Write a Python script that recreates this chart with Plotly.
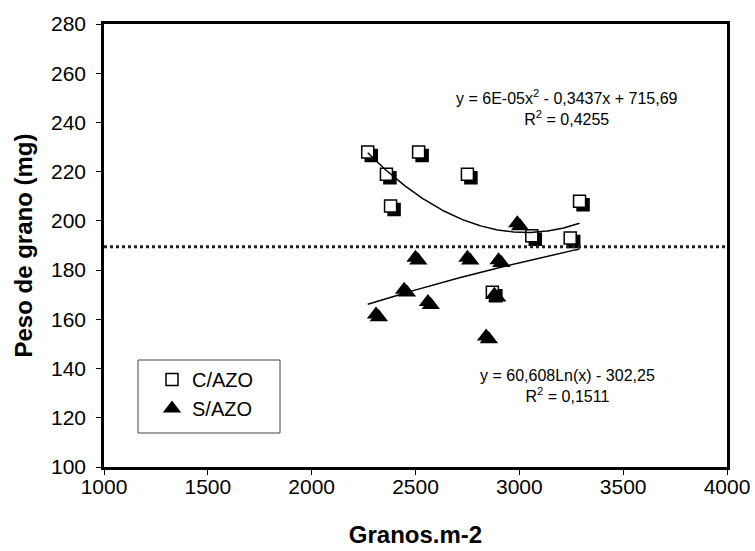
import numpy as np
import plotly.graph_objects as go

# ---- data ----
c_azo_x = [2270, 2360, 2380, 2515, 2750, 2870, 3060, 3245, 3290]
c_azo_y = [228, 219, 206, 228, 219, 171, 194, 193, 208]
s_azo_x = [2310, 2445, 2560, 2500, 2750, 2900, 2990, 2880, 2840]
s_azo_y = [162, 172, 167, 185, 185, 184, 199, 170, 153]
ref_y = 189.5
log_a, log_b = 60.608, -302.25
eq_c = "y = 6E-05x<sup>2</sup> - 0,3437x + 715,69<br>R<sup>2</sup> = 0,4255"
eq_s = "y = 60,608Ln(x) - 302,25<br>R<sup>2</sup> = 0,1511"
x_ticks = [1000, 1500, 2000, 2500, 3000, 3500, 4000]
y_ticks = [100, 120, 140, 160, 180, 200, 220, 240, 260, 280]

W, H = 755, 551
ML, MR, MT, MB = 104, 28, 24, 84
XR = [1000, 4000]
YR = [100, 280]
pw, ph = W - ML - MR, H - MT - MB
dx = 3.5 * (XR[1] - XR[0]) / pw
dy = 3.5 * (YR[1] - YR[0]) / ph

FONT = "Liberation Sans, Arial, sans-serif"

fig = go.Figure()

# shadows + C/AZO
fig.add_trace(go.Scatter(x=[v + dx for v in c_azo_x], y=[v - dy for v in c_azo_y], mode="markers",
                         marker=dict(symbol="square", size=12, color="black", line=dict(width=1.5, color="black")),
                         showlegend=False, hoverinfo="skip"))
fig.add_trace(go.Scatter(x=c_azo_x, y=c_azo_y, mode="markers", name="C/AZO",
                         marker=dict(symbol="square", size=12, color="white", line=dict(width=1.5, color="black"))))
# shadows + S/AZO
fig.add_trace(go.Scatter(x=[v + dx * 0.8 for v in s_azo_x], y=[v - dy * 0.8 for v in s_azo_y], mode="markers",
                         marker=dict(symbol="triangle-up", size=16, color="black"),
                         showlegend=False, hoverinfo="skip"))
fig.add_trace(go.Scatter(x=s_azo_x, y=s_azo_y, mode="markers", name="S/AZO",
                         marker=dict(symbol="triangle-up", size=16, color="black")))

# trendlines
cx = np.array(c_azo_x, float)
cy = np.array(c_azo_y, float)
coef = np.polyfit(cx, cy, 2)
xx = np.linspace(cx.min(), cx.max(), 200)
fig.add_trace(go.Scatter(x=xx, y=np.polyval(coef, xx), mode="lines",
                         line=dict(color="black", width=1.5), showlegend=False, hoverinfo="skip"))
xs = np.linspace(min(c_azo_x + s_azo_x), max(c_azo_x + s_azo_x), 200)
fig.add_trace(go.Scatter(x=xs, y=log_a * np.log(xs) + log_b, mode="lines",
                         line=dict(color="black", width=1.5), showlegend=False, hoverinfo="skip"))

# reference dotted line
fig.add_trace(go.Scatter(x=XR, y=[ref_y, ref_y], mode="lines",
                         line=dict(color="#222222", width=3, dash="3px,3px"),
                         showlegend=False, hoverinfo="skip"))

fig.add_annotation(x=(567 - ML) / pw, y=(H - MB - 108) / ph, xref="paper", yref="paper",
                   xanchor="center", yanchor="middle",
                   text=eq_c, showarrow=False, align="center",
                   font=dict(size=16, color="black", family=FONT))
fig.add_annotation(x=(567 - ML) / pw, y=(H - MB - 386) / ph, xref="paper", yref="paper",
                   xanchor="center", yanchor="middle",
                   text=eq_s, showarrow=False, align="center",
                   font=dict(size=16, color="black", family=FONT))

# legend box
fig.add_shape(type="rect", xref="paper", yref="paper",
              x0=(138 - ML) / pw, x1=(280 - ML) / pw,
              y0=(H - MB - 433) / ph, y1=(H - MB - 360) / ph,
              line=dict(color="#444444", width=1), fillcolor="white", layer="below")

axis_common = dict(showline=True, linecolor="black", linewidth=2.5, mirror=True,
                   ticks="outside", ticklen=5, tickwidth=1, tickcolor="black",
                   showgrid=False, zeroline=False, automargin=False,
                   tickfont=dict(size=21, color="black", family=FONT))

fig.update_layout(
    width=W, height=H,
    margin=dict(l=ML, r=MR, t=MT, b=MB),
    paper_bgcolor="white", plot_bgcolor="white",
    font=dict(family=FONT, color="black"),
    xaxis=dict(range=XR, tickvals=x_ticks, ticklabelstandoff=-6,
               title=dict(text="<b>Granos.m-2</b>", font=dict(size=24, family=FONT), standoff=30),
               **axis_common),
    yaxis=dict(range=YR, tickvals=y_ticks, ticklabelstandoff=6,
               title=dict(text="<b>Peso de grano (mg)</b>", font=dict(size=24, family=FONT), standoff=12),
               **axis_common),
    legend=dict(x=(152 - ML) / pw, y=(H - MB - 360) / ph, xanchor="left", yanchor="top",
                bgcolor="rgba(0,0,0,0)", borderwidth=0, font=dict(size=20, family=FONT, color="black"),
                tracegroupgap=0, itemsizing="trace"),
    showlegend=True,
)

fig.write_html("out.html")
